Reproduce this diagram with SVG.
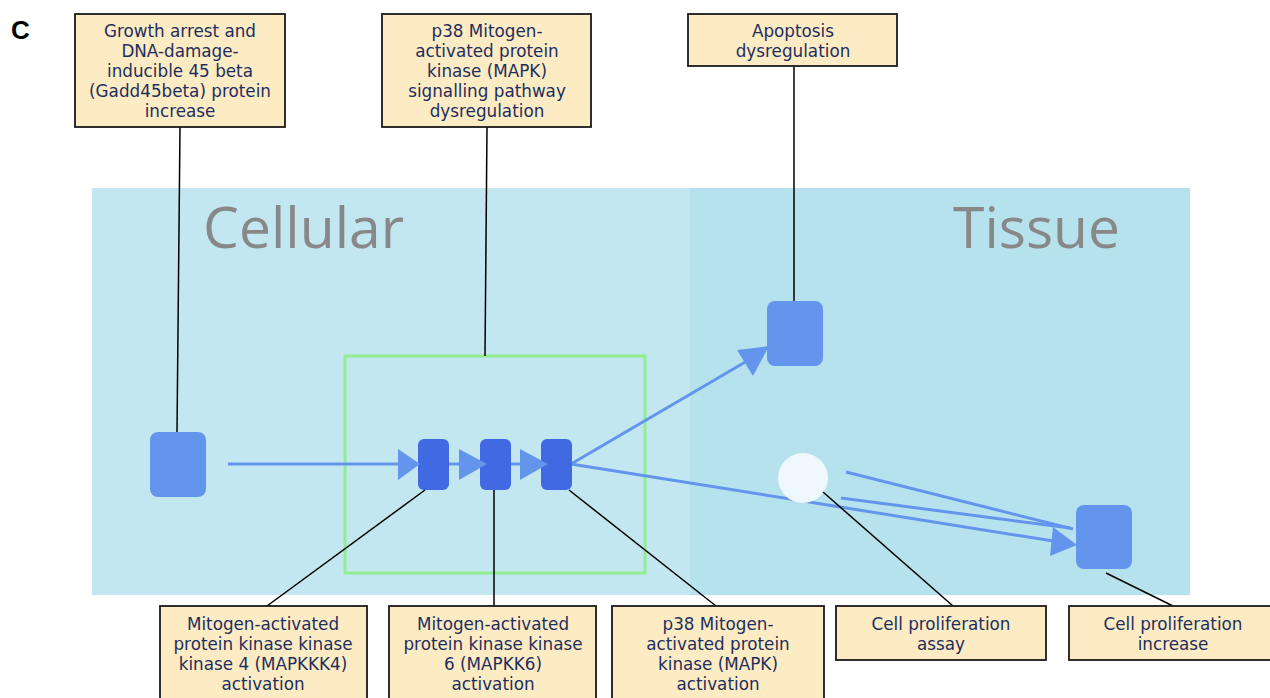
<svg xmlns="http://www.w3.org/2000/svg" width="1270" height="698" viewBox="0 0 1270 698">
  <style>
    .lbl rect { fill: #fdebc3; stroke: #1a1a1a; stroke-width: 1.8; }
    .lbl text { font-family: "DejaVu Sans", Verdana, sans-serif; font-size: 16.8px; fill: #1c2f5e; text-anchor: middle; }
    .zone { font-family: "Open Sans", "Noto Sans", sans-serif; font-size: 57px; fill: #888888; }
    .ke { fill: #6495ed; }
    .kek { fill: #4169e1; }
    .flow { stroke: #6495ed; stroke-width: 3; fill: none; }
    .head { fill: #6495ed; }
    .call { stroke: #000; stroke-width: 1.5; fill: none; }
  </style>

  <rect width="1270" height="698" fill="#ffffff"/>

  <!-- biological levels -->
  <g id="levels">
    <rect x="92" y="188" width="598" height="407" fill="#c3e7f1"/>
    <rect x="690" y="188" width="500" height="407" fill="#b6e2ee"/>
    <text class="zone" x="203" y="248">Cellular</text>
    <text class="zone" x="953" y="248">Tissue</text>
  </g>

  <text x="11" y="39" font-family="Liberation Sans, Arial, sans-serif" font-size="26" font-weight="bold" fill="#000">C</text>

  <!-- pathway grouping -->
  <g id="pathway-box">
    <rect x="345" y="356" width="300" height="217" fill="none" stroke="#90ee90" stroke-width="3"/>
  </g>

  <!-- connectors -->
  <g id="connectors">
    <line class="flow" x1="228" y1="464" x2="400" y2="464"/>
    <line class="flow" x1="449" y1="464" x2="462" y2="464"/>
    <line class="flow" x1="510" y1="464" x2="523" y2="464"/>
    <line class="flow" x1="571" y1="464" x2="747" y2="361"/>
    <line class="flow" x1="571" y1="464" x2="1053" y2="541"/>
    <line class="flow" x1="846" y1="472" x2="1073" y2="529" stroke-width="4"/>
    <line class="flow" x1="841" y1="498" x2="1070" y2="528" stroke-width="3.5"/>
  </g>

  <!-- nodes -->
  <g id="node-gadd45b"><rect class="ke" x="150" y="432" width="56" height="65" rx="8"/></g>
  <g id="node-mapkkk4"><rect class="kek" x="418" y="439" width="31" height="51" rx="6"/></g>
  <g id="node-mapkk6"><rect class="kek" x="480" y="439" width="31" height="51" rx="6"/></g>
  <g id="node-p38"><rect class="kek" x="541" y="439" width="31" height="51" rx="6"/></g>
  <g id="node-apoptosis"><rect class="ke" x="767" y="301" width="56" height="65" rx="8"/></g>
  <g id="node-assay"><circle cx="803" cy="478" r="25" fill="#f0f8ff"/></g>
  <g id="node-proliferation"><rect class="ke" x="1076" y="505" width="56" height="64" rx="8"/></g>

  <!-- arrowheads -->
  <g id="arrowheads">
    <polygon class="head" points="398,449 420,464 398,480"/>
    <polygon class="head" points="459,449 487,464 459,480"/>
    <polygon class="head" points="520,449 548,464 520,480"/>
    <polygon class="head" points="737,350 769,346 753,376"/>
    <polygon class="head" points="1053,527 1077,545 1050,556"/>
  </g>

  <!-- callout lines -->
  <g id="callouts">
    <line class="call" x1="180" y1="127" x2="177" y2="432"/>
    <line class="call" x1="487" y1="127" x2="485" y2="356"/>
    <line class="call" x1="794" y1="66" x2="794" y2="301"/>
    <line class="call" x1="425" y1="490" x2="267" y2="606"/>
    <line class="call" x1="494" y1="490" x2="494" y2="606"/>
    <line class="call" x1="569" y1="490" x2="716" y2="606"/>
    <line class="call" x1="823" y1="492" x2="953" y2="606"/>
    <line class="call" x1="1106" y1="573" x2="1173" y2="606"/>
  </g>

  <!-- labels -->
  <g id="label-gadd45b" class="lbl">
    <rect x="75" y="14" width="210" height="113"/>
    <text x="180" y="37">Growth arrest and</text>
    <text x="180" y="57">DNA-damage-</text>
    <text x="180" y="77">inducible 45 beta</text>
    <text x="180" y="97">(Gadd45beta) protein</text>
    <text x="180" y="117">increase</text>
  </g>
  <g id="label-p38-pathway" class="lbl">
    <rect x="382" y="14" width="209" height="113"/>
    <text x="487" y="37">p38 Mitogen-</text>
    <text x="487" y="57">activated protein</text>
    <text x="487" y="77">kinase (MAPK)</text>
    <text x="487" y="97">signalling pathway</text>
    <text x="487" y="117">dysregulation</text>
  </g>
  <g id="label-apoptosis" class="lbl">
    <rect x="688" y="14" width="209" height="52"/>
    <text x="793" y="37">Apoptosis</text>
    <text x="793" y="57">dysregulation</text>
  </g>
  <g id="label-mapkkk4" class="lbl">
    <rect x="160" y="606" width="207" height="100"/>
    <text x="263" y="630">Mitogen-activated</text>
    <text x="263" y="650">protein kinase kinase</text>
    <text x="263" y="670">kinase 4 (MAPKKK4)</text>
    <text x="263" y="690">activation</text>
  </g>
  <g id="label-mapkk6" class="lbl">
    <rect x="389" y="606" width="207" height="100"/>
    <text x="493" y="630">Mitogen-activated</text>
    <text x="493" y="650">protein kinase kinase</text>
    <text x="493" y="670">6 (MAPKK6)</text>
    <text x="493" y="690">activation</text>
  </g>
  <g id="label-p38" class="lbl">
    <rect x="612" y="606" width="212" height="100"/>
    <text x="718" y="630">p38 Mitogen-</text>
    <text x="718" y="650">activated protein</text>
    <text x="718" y="670">kinase (MAPK)</text>
    <text x="718" y="690">activation</text>
  </g>
  <g id="label-assay" class="lbl">
    <rect x="836" y="606" width="210" height="54"/>
    <text x="941" y="630">Cell proliferation</text>
    <text x="941" y="650">assay</text>
  </g>
  <g id="label-proliferation" class="lbl">
    <rect x="1069" y="606" width="220" height="54"/>
    <text x="1173" y="630">Cell proliferation</text>
    <text x="1173" y="650">increase</text>
  </g>
</svg>
